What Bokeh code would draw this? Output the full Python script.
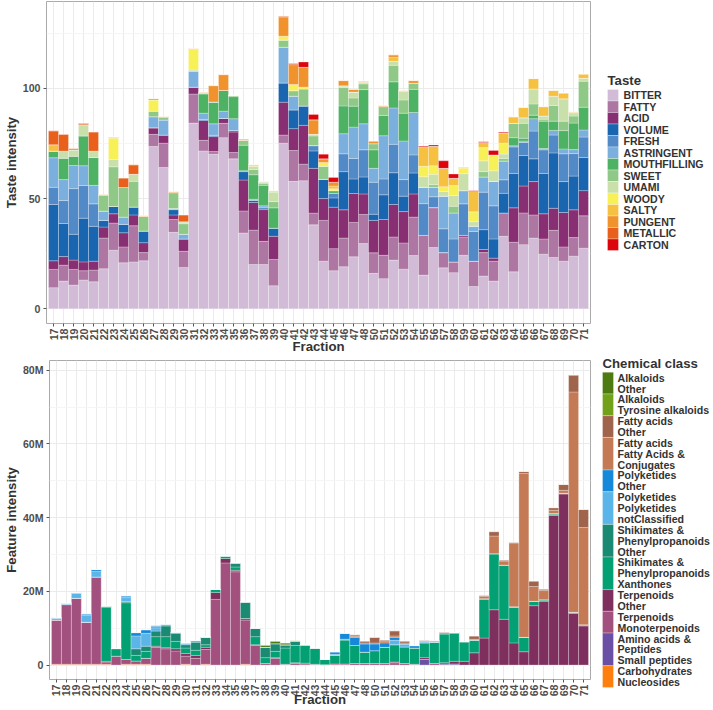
import math
from bokeh.plotting import figure
from bokeh.models import FactorRange, Range1d, FixedTicker, ColumnDataSource
from bokeh.layouts import row, column
from bokeh.core.properties import value
from bokeh.embed import file_html
from bokeh.resources import INLINE

# ---------------- data ----------------
fractions = [str(f) for f in list(range(17, 49)) + list(range(50, 72))]

# Taste intensities (stack order bottom -> top)
BITTER = [9.6, 12.6, 10.8, 13.1, 12.3, 18.2, 26.6, 20.9, 21.3, 21.8,
          73.6, 64.1, 34.7, 18.8, 84.2, 71.6, 70.1, 77.6, 68.0, 34.4,
          20.1, 20.1, 10.5, 75.1, 57.8, 58.1, 38.1, 21.6, 17.3, 19.1,
          23.6, 29.6, 16.1, 13.7, 22.1, 18.0, 24.2, 15.3, 27.8, 18.6,
          16.4, 24.3, 10.1, 14.9, 12.6, 32.9, 16.8, 29.1, 32.1, 24.8,
          23.3, 21.6, 23.9, 27.5]
FATTY = [8.3, 7.2, 7.1, 4.2, 5.3, 13.9, 12.3, 7.2, 16.4, 3.7,
         5.5, 11.0, 5.8, 7.3, 13.2, 4.8, 1.2, 6.5, 2.9, 10.0,
         15.6, 10.5, 11.9, 3.7, 14.0, 7.5, 5.3, 18.5, 10.0, 13.0,
         15.6, 13.2, 9.3, 10.6, 10.5, 11.9, 17.4, 18.0, 18.1, 6.9,
         4.9, 8.3, 11.5, 10.6, 9.0, 10.6, 13.4, 14.4, 10.5, 6.9,
         12.3, 6.5, 8.4, 14.7]
ACID = [3.9, 3.9, 4.2, 4.0, 4.0, 5.0, 4.2, 6.4, 4.9, 4.5,
        3.0, 3.7, 2.1, 5.6, 3.1, 9.0, 6.8, 2.2, 9.3, 14.0,
        12.5, 14.4, 10.5, 14.9, 9.9, 17.6, 20.3, 9.9, 18.8, 12.8,
        13.1, 9.3, 14.7, 16.2, 14.7, 14.2, 10.5, 0, 0, 0,
        0, 0.7, 0, 1.4, 1.4, 0, 15.6, 12.2, 15.1, 11.4,
        10.0, 15.6, 12.6, 11.4]
VOLUME = [25.5, 15.0, 11.7, 19.8, 15.8, 3.0, 3.3, 3.8, 3.6, 5.3,
          0, 0, 2.4, 0, 0, 0.5, 0.6, 0, 0.6, 3.8,
          1.0, 0.8, 3.7, 8.7, 8.5, 8.8, 7.9, 8.7, 4.2, 17.3,
          6.6, 7.7, 2.8, 11.2, 14.4, 7.0, 9.5, 0, 0, 0,
          0, 0, 0, 9.0, 8.7, 8.9, 15.6, 13.8, 10.3, 18.3,
          25.1, 14.0, 15.3, 15.0]
FRESH = [7.8, 10.4, 20.7, 14.8, 10.2, 0, 0, 0, 0, 0,
         0, 0, 0, 0, 0, 0, 0, 0, 0, 0.4,
         0, 0, 0, 0, 0, 0, 2.4, 0, 2.1, 8.1,
         9.3, 12.3, 14.5, 7.2, 12.9, 7.5, 8.2, 14.4, 4.9, 10.8,
         10.4, 14.3, 13.5, 17.0, 15.0, 6.1, 12.0, 5.9, 12.6, 10.7,
         8.1, 12.6, 10.2, 9.3]
ASTRINGENT = [13.4, 9.5, 10.5, 9.0, 8.4, 4.2, 0, 3.3, 0, 0,
              5.0, 6.8, 0.5, 2.1, 7.3, 2.8, 5.2, 3.3, 5.4, 0,
              0.5, 0.9, 0, 16.2, 6.2, 0, 0, 0, 0, 9.1,
              14.2, 11.8, 6.3, 19.6, 16.5, 17.5, 19.2, 7.4, 4.3, 14.8,
              11.8, 6.0, 2.4, 6.9, 11.1, 8.5, 0.5, 0.7, 5.6, 0.6,
              2.1, 2.2, 1.8, 3.2]
MOUTHFILLING = [3.0, 9.7, 4.2, 13.5, 12.6, 0, 0, 0, 0, 0,
                0, 0, 0, 0, 0, 8.7, 9.9, 9.4, 10.0, 11.6,
                11.1, 9.3, 9.2, 0, 0, 0, 0, 0, 1.2, 12.6,
                9.5, 15.5, 8.4, 9.2, 11.8, 12.6, 10.5, 0, 0, 0,
                0, 0, 0, 0, 0, 0, 3.7, 1.2, 1.6, 12.4,
                4.2, 8.3, 12.0, 10.3]
SWEET = [0, 0, 0, 0, 0, 7.1, 18.0, 13.4, 11.6, 6.6,
         2.5, 1.2, 7.2, 4.8, 0, 0.5, 0, 0, 0.6, 2.2,
         2.4, 0.9, 2.8, 3.2, 2.5, 7.7, 4.4, 5.9, 0, 8.4,
         3.7, 2.6, 2.8, 4.0, 7.5, 6.0, 2.8, 0, 1.2, 0,
         3.0, 0, 0, 2.4, 0, 1.2, 6.5, 6.8, 5.1, 0.9,
         7.1, 4.3, 3.2, 11.8]
UMAMI = [0, 3.2, 2.9, 5.1, 2.9, 0, 3.3, 0, 3.2, 0,
         0, 0, 0, 0.9, 0.5, 0, 0, 0, 0, 0,
         1.4, 0.6, 4.4, 0, 0, 0, 0.7, 0, 0, 0.7,
         2.7, 0.7, 0, 0, 1.8, 3.9, 0, 4.8, 4.7, 2.1,
         4.9, 7.7, 2.0, 4.9, 4.8, 2.0, 0, 2.5, 6.8, 1.4,
         4.2, 10.1, 1.5, 1.3]
WOODY = [0, 0, 0, 0, 0, 0, 9.6, 0, 0, 0,
         5.1, 0, 0, 0, 9.4, 0, 0, 0, 0, 0,
         0, 0, 0, 1.8, 2.8, 0.8, 0, 1.8, 0.8, 0,
         0, 0, 0, 0, 0, 0, 0, 4.7, 3.9, 2.2,
         4.5, 2.4, 4.5, 6.0, 7.2, 4.9, 0, 0, 0, 0,
         0, 0, 0, 0]
SALTY = [2.9, 0, 0, 0, 0, 0, 0.6, 0, 0, 0,
         0, 0, 0, 0, 0, 0, 0, 0, 0, 0,
         0.7, 0.3, 0.5, 0, 0, 0, 0, 0, 1.3, 0,
         0, 0, 0, 0, 1.8, 0, 0, 8.7, 8.8, 8.3,
         3.3, 0.6, 9.2, 2.3, 0, 4.7, 3.0, 4.8, 4.7, 4.3,
         2.7, 2.7, 0.4, 2.0]
PUNGENT = [0, 0, 0, 0, 0, 0.4, 0, 0, 0, 0.3,
           0.6, 0.4, 0.5, 0, 0.3, 0.3, 7.4, 7.2, 0, 0.6,
           0, 0, 0, 8.7, 9.0, 9.0, 6.6, 1.6, 1.7, 2.4,
           1.2, 0.5, 1.2, 0.5, 1.2, 0.4, 1.2, 0, 0, 0,
           0, 0, 0, 0, 0, 0, 0, 0, 0, 0,
           0, 0, 0, 0]
METALLIC = [6.3, 7.6, 0.6, 0.6, 8.7, 0, 0, 4.3, 4.3, 0,
            0, 0, 0, 3.1, 0, 0, 0, 0, 0, 0,
            0, 0, 0, 0.4, 0.6, 0, 0, 0, 0, 0,
            0, 0, 0, 0, 0, 0, 0, 0, 0, 0,
            0, 0, 0, 0, 0, 0, 0, 0, 0, 0,
            0, 0, 0, 0]
CARTON = [0, 0, 0, 0, 0, 0, 0, 0, 0, 0,
          0, 0, 0, 0, 0, 0, 0, 0, 0, 0,
          0, 0, 0, 0, 0, 2.4, 2.4, 2.1, 2.2, 0,
          0, 0, 0, 0, 0, 0, 0, 0.4, 0.6, 3.4,
          1.9, 0, 0.4, 0.4, 2.0, 0.4, 0, 0, 0, 0,
          0, 0, 0, 0]

taste_names = ["BITTER", "FATTY", "ACID", "VOLUME", "FRESH", "ASTRINGENT",
               "MOUTHFILLING", "SWEET", "UMAMI", "WOODY", "SALTY", "PUNGENT",
               "METALLIC", "CARTON"]
taste_colors = ["#D1BBD7", "#AE76A3", "#882E72", "#1965B0", "#5289C7", "#7BAFDE",
                "#4EB265", "#90C987", "#CAE0AB", "#F7F056", "#F6C141", "#F1932D",
                "#E8601C", "#DC050C"]
taste_values = [BITTER, FATTY, ACID, VOLUME, FRESH, ASTRINGENT, MOUTHFILLING,
                SWEET, UMAMI, WOODY, SALTY, PUNGENT, METALLIC, CARTON]

# Feature intensity in millions (stack order bottom -> top)
CARB_NUCLEOSIDES = [0.2, 0.2, 0.2, 0.2, 0.2, 0.2, 0, 0.2, 0.2, 0.2,
                    0, 0, 0, 0.2, 0, 0.2, 0, 0, 0, 0.2,
                    0, 0, 0, 0, 0, 0, 0, 0, 0, 0,
                    0, 0, 0, 0, 0, 0, 0, 0, 0, 0,
                    0, 0, 0, 0, 0, 0, 0, 0, 0, 0,
                    0, 0, 0, 0]
AMINO_SMALL_PEPTIDES = [0, 0, 0, 0, 0, 0, 0, 0, 0, 0,
                        0, 0, 0, 0, 0, 0, 0, 0, 0, 0,
                        0, 0, 0, 0, 0, 0, 0, 0, 0, 0,
                        0, 0, 0, 0, 0, 0, 0, 1.5, 0, 0.3,
                        0.3, 0, 0, 0, 0, 0, 0, 0, 0, 0,
                        0, 0, 0, 0]
TERP_MONO = [12.0, 16.2, 17.9, 11.4, 23.7, 0.6, 2.4, 1.3, 0.9, 1.6,
             4.8, 4.4, 3.8, 2.2, 1.8, 4.0, 17.8, 27.7, 25.3, 12.0,
             5.3, 0.4, 1.8, 0.2, 0.4, 0.3, 0.2, 0.1, 0.3, 0.3,
             0.4, 0.4, 0.4, 0.4, 0.6, 0.4, 0.2, 0, 0.4, 0,
             0, 0, 0, 0, 0, 0, 0, 0, 0, 0,
             0, 0, 0, 0]
TERP_OTHER = [0, 0, 0, 0, 0, 0.2, 0, 0, 0, 0,
              0.3, 0.3, 0.6, 0.7, 0.8, 0.6, 1.9, 1.2, 0.4, 0.4,
              0.2, 0, 0.2, 0, 0.2, 0.2, 0, 0, 0, 0,
              0, 0, 0, 0, 0.2, 0, 0, 0.5, 0, 0.3,
              0.7, 1.0, 3.3, 7.3, 15.0, 12.4, 6.0, 3.6, 16.1, 17.3,
              40.6, 46.4, 14.0, 10.6]
SHIK_XANTHONES = [0, 0, 0, 0, 0, 14.7, 2.0, 15.4, 1.5, 1.9,
                  2.6, 3.0, 2.0, 1.5, 1.4, 0.7, 0.8, 0.7, 0.9, 0,
                  2.2, 1.6, 1.7, 4.4, 4.7, 4.8, 4.4, 1.4, 2.3, 6.5,
                  4.9, 3.1, 3.5, 4.4, 4.7, 4.5, 4.4, 4.0, 5.7, 7.9,
                  7.6, 5.2, 3.4, 10.5, 15.2, 14.7, 9.6, 3.9, 1.2, 0.4,
                  0.3, 0.2, 0.3, 0.3]
SHIK_OTHER = [0, 0, 0, 0, 0, 0.3, 0.1, 0.3, 1.8, 1.4,
              1.5, 2.9, 2.2, 0.9, 2.2, 2.0, 0, 0, 1.1, 4.5,
              2.3, 2.8, 2.1, 0.9, 1.1, 0.2, 0, 0, 0, 0,
              0, 0, 0, 0, 0, 0, 0, 0, 0, 0,
              0.2, 0.2, 0.1, 0.2, 0, 0, 0.2, 0, 0, 0,
              0.2, 0, 0, 0]
POLY_NOTCLASSIFIED = [0.6, 0.4, 1.5, 1.9, 1.5, 0, 0, 1.1, 3.5, 3.5,
                      0.9, 0.5, 0.3, 0.5, 0.5, 0.1, 0, 0, 0, 0,
                      0, 0, 0, 0, 0, 0, 0, 0, 0.3, 0.2,
                      0, 0, 0, 0, 1.2, 0.8, 0, 0.3, 0.2, 0,
                      0, 0, 0, 0, 0, 0, 0, 0, 0, 0,
                      0, 0, 0, 0]
POLY_OTHER = [0, 0, 0, 0.4, 0.5, 0, 0, 0.5, 0.9, 1.0,
              0.5, 0, 0, 0, 0, 0, 0, 0, 0, 0,
              0, 0, 0, 0, 0, 0, 0, 0, 0.7, 1.6,
              2.2, 2.2, 1.8, 1.2, 0.8, 0, 0.6, 0, 0, 0,
              0, 0, 0, 0, 0, 0, 0, 0, 0, 0,
              0, 0, 0, 0]
FATTY_CONJUGATES = [0, 0, 0, 0, 0, 0, 0, 0, 0, 0,
                    0, 0, 0, 0, 0, 0, 0, 0, 0, 0,
                    0, 0, 0, 0, 0, 0, 0, 0, 0, 0,
                    0.3, 0.3, 0.3, 0.5, 0.4, 0.3, 0.1, 0.2, 0.3, 0,
                    0, 0, 0.2, 0.6, 4.8, 1.1, 17.3, 44.5, 4.0, 2.5,
                    0.9, 0.8, 59.8, 26.4]
FATTY_OTHER = [0, 0, 0, 0, 0, 0, 0, 0, 0, 0,
               0, 0, 0, 0, 0, 0, 0, 0, 0, 0,
               0, 0, 0, 0, 0, 0, 0, 0, 0, 0,
               0.4, 0.5, 1.5, 0.3, 1.4, 0.5, 0, 0.2, 0, 0.4,
               0, 0, 0.9, 0.3, 1.2, 0.3, 0.2, 0.5, 1.5, 0.4,
               0.7, 1.6, 4.6, 4.9]
ALK_TYROSINE = [0, 0, 0, 0, 0, 0, 0, 0, 0, 0,
                0.1, 0, 0, 0, 0, 0, 0, 0, 0, 0,
                0, 0, 0, 0, 0.2, 0, 0, 0, 0, 0,
                0, 0, 0, 0, 0, 0, 0, 0, 0, 0,
                0, 0, 0, 0, 0, 0, 0, 0, 0, 0,
                0, 0, 0, 0]
ALK_OTHER = [0, 0, 0, 0, 0, 0, 0, 0, 0, 0,
             0, 0, 0, 0, 0, 0, 0, 0, 0, 0,
             0, 0.5, 0.6, 0.4, 0, 0, 0, 0, 0, 0,
             0, 0, 0, 0, 0, 0, 0, 0, 0, 0,
             0, 0, 0, 0, 0, 0, 0, 0, 0, 0,
             0, 0, 0, 0]

chem_keys = ["carb", "amino", "mono", "terp_other", "xanth", "shik_other",
             "poly_nc", "poly_other", "fa_conj", "fa_other", "alk_tyr", "alk_other"]
chem_labels = ["Carbohydrates\nNucleosides",
               "Amino acids &\nPeptides\nSmall peptides",
               "Terpenoids\nMonoterpenoids",
               "Terpenoids\nOther",
               "Shikimates &\nPhenylpropanoids\nXanthones",
               "Shikimates &\nPhenylpropanoids\nOther",
               "Polyketides\nPolyketides\nnotClassified",
               "Polyketides\nOther",
               "Fatty acids\nFatty Acids &\nConjugates",
               "Fatty acids\nOther",
               "Alkaloids\nTyrosine alkaloids",
               "Alkaloids\nOther"]
chem_colors = ["#FF7F0E", "#6A50A4", "#A2517E", "#7E2F5E", "#03A073", "#1B8A73",
               "#5CB5E8", "#1588DA", "#C47B55", "#A0634B", "#72A11C", "#4E7A12"]
chem_values = [CARB_NUCLEOSIDES, AMINO_SMALL_PEPTIDES, TERP_MONO, TERP_OTHER,
               SHIK_XANTHONES, SHIK_OTHER, POLY_NOTCLASSIFIED, POLY_OTHER,
               FATTY_CONJUGATES, FATTY_OTHER, ALK_TYROSINE, ALK_OTHER]

y_ticks_top = [0, 50, 100]
y_ticks_bottom = [0, 20, 40, 60, 80]
y_labels_bottom = ["0", "20M", "40M", "60M", "80M"]

# ---------------- style ----------------
FONT = "Liberation Sans"
TICK_COLOR = "#4D4D4D"
TITLE_COLOR = "#333333"

TOP_H = 357
BOT_H = 710 - TOP_H


def style_axes(p, x_title_standoff):
    p.background_fill_color = "white"
    p.border_fill_color = "white"
    p.outline_line_color = "#AAAAAA"
    p.outline_line_width = 1
    for ax in (p.xaxis, p.yaxis):
        ax.axis_line_color = None
        ax.major_tick_line_color = "#555555"
        ax.major_tick_out = 3
        ax.major_tick_in = 0
        ax.minor_tick_line_color = None
        ax.major_label_text_font = FONT
        ax.major_label_text_font_style = "bold"
        ax.major_label_text_font_size = "10.6px"
        ax.major_label_text_color = TICK_COLOR
        ax.axis_label_text_font = FONT
        ax.axis_label_text_font_style = "bold"
        ax.axis_label_text_font_size = "13.2px"
        ax.axis_label_text_color = TITLE_COLOR
        ax.major_label_standoff = 2
    p.xaxis.axis_label_standoff = x_title_standoff
    p.yaxis.axis_label_standoff = 1
    p.xaxis.major_label_orientation = math.pi / 2
    p.xgrid.grid_line_color = "#EBEBEB"
    p.ygrid.grid_line_color = "#EBEBEB"
    p.ygrid.minor_grid_line_color = "#F5F5F5"


def make_xrange():
    r = FactorRange(*fractions)
    r.range_padding = 0.2
    r.range_padding_units = "absolute"
    return r


def legend_fig(height):
    f = figure(width=122, height=height, x_range=Range1d(0, 122), y_range=Range1d(height, 0),
               output_backend="svg", toolbar_location=None, min_border=0,
               x_axis_type=None, y_axis_type=None, outline_line_color=None)
    f.frame_align = False
    f.background_fill_color = "white"
    f.border_fill_color = "white"
    return f


def legend_text(f, xs, ys, texts, size):
    f.text(x=xs, y=ys, text=texts, text_font=value(FONT), text_font_style="bold",
           text_font_size=value(size), text_color=TITLE_COLOR,
           text_baseline="middle", text_align="left")


# ---------------- top chart ----------------
top_src = ColumnDataSource(dict(fraction=fractions, **{n: v for n, v in zip(taste_names, taste_values)}))
top_max = max(sum(v[i] for v in taste_values) for i in range(len(fractions)))

p1 = figure(x_range=make_xrange(), y_range=Range1d(-0.05 * top_max, 1.05 * top_max),
            width=591, height=TOP_H, output_backend="svg", toolbar_location=None,
            min_border_left=38, min_border_right=1, min_border_top=1, min_border_bottom=34)
p1.frame_align = False
p1.vbar_stack(taste_names, x="fraction", width=1.0, fill_color=taste_colors,
              line_color="white", line_alpha=0.45, line_width=0.6, source=top_src)
p1.yaxis.ticker = FixedTicker(ticks=y_ticks_top, minor_ticks=[25, 75, 125])
p1.xaxis.axis_label = "Fraction"
p1.yaxis.axis_label = "Taste intensity"
style_axes(p1, -4)

# top legend (own small panel, page pixel coordinates)
leg1 = legend_fig(TOP_H)
key_h = 11.5
key_top0 = 89.0
tops = [key_top0 + i * key_h for i in range(len(taste_names))]
leg1.quad(left=16, right=27, top=tops, bottom=[t + key_h for t in tops],
          fill_color=taste_colors, line_color="white", line_alpha=0.5, line_width=0.6)
legend_text(leg1, [32] * len(taste_names), [t + key_h / 2 for t in tops], taste_names, "10.6px")
legend_text(leg1, [16], [80], ["Taste"], "13.2px")

# ---------------- bottom chart ----------------
bot_src = ColumnDataSource(dict(fraction=fractions, **{k: v for k, v in zip(chem_keys, chem_values)}))
bot_max = max(sum(v[i] for v in chem_values) for i in range(len(fractions)))

p2 = figure(x_range=make_xrange(), y_range=Range1d(-0.05 * bot_max, 1.05 * bot_max),
            width=591, height=BOT_H, output_backend="svg", toolbar_location=None,
            min_border_left=38, min_border_right=1, min_border_top=360 - TOP_H,
            min_border_bottom=27)
p2.frame_align = False
p2.vbar_stack(chem_keys, x="fraction", width=1.0, fill_color=chem_colors,
              line_color="white", line_alpha=0.45, line_width=0.6, source=bot_src)
p2.yaxis.ticker = FixedTicker(ticks=y_ticks_bottom, minor_ticks=[10, 30, 50, 70])
p2.yaxis.major_label_overrides = {t: l for t, l in zip(y_ticks_bottom, y_labels_bottom)}
p2.xaxis.axis_label = "Fraction"
p2.yaxis.axis_label = "Feature intensity"
style_axes(p2, -7)

# bottom legend (multi-line entries, one text line each)
leg2 = legend_fig(BOT_H)
line_h = 10.87
top0 = 371.7 - TOP_H
leg_labels = chem_labels[::-1]
leg_colors = chem_colors[::-1]
ktops, kbots, lx, ly, lt = [], [], [], [], []
cur = top0
for lab in leg_labels:
    lines = lab.split("\n")
    n = len(lines)
    ktops.append(cur)
    kbots.append(cur + n * line_h)
    for j, ln in enumerate(lines):
        lx.append(26)
        ly.append(cur + (j + 0.5) * line_h)
        lt.append(ln)
    cur += n * line_h
leg2.quad(left=11, right=22, top=ktops, bottom=kbots, fill_color=leg_colors,
          line_color="white", line_alpha=0.5, line_width=0.6)
legend_text(leg2, lx, ly, lt, "10.6px")
legend_text(leg2, [11], [362.7 - TOP_H], ["Chemical class"], "13.2px")

layout = column(row(p1, leg1), row(p2, leg2))
open("out.html", "w").write(file_html(layout, INLINE))
